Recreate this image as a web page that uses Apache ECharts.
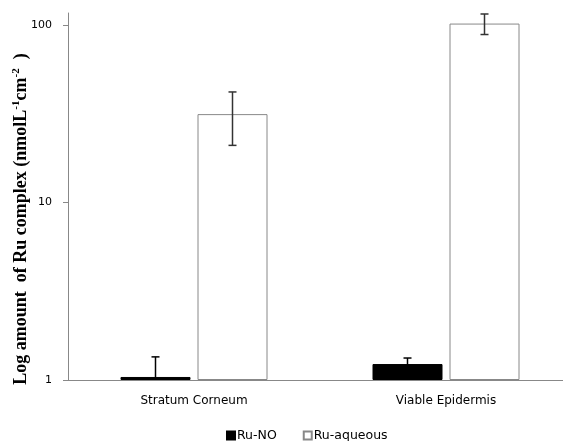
<!DOCTYPE html>
<html>
<head>
<meta charset="utf-8">
<script src="https://cdn.jsdelivr.net/npm/echarts@6/dist/echarts.min.js"></script>
<style>
  html, body { margin: 0; padding: 0; background: #fff; }
  #chart { width: 563px; height: 441px; }
</style>
</head>
<body>
<div id="chart"></div>
<script>
// values
const categories = ['Stratum Corneum', 'Viable Epidermis'];
const ruNO = [1.04, 1.23];
const ruNOErr = [0.31, 0.1];
const ruAq = [31.5, 102];
const ruAqErr = [10.5, 13.5];
const yTicks = [1, 10, 100];

const barW = 70;
const gapPx = 7;

function errorSeries(name, values, errs, side, color) {
  return {
    name: name + ' err',
    type: 'custom',
    silent: true,
    z: 10,
    data: values.map((v, i) => [i, v, errs[i]]),
    renderItem: function (params, api) {
      const i = api.value(0);
      const v = api.value(1);
      const e = api.value(2);
      const off = side * (barW + gapPx) / 2;
      const top = api.coord([i, v + e]);
      const bot = api.coord([i, Math.max(v - e, 1)]);
      const x = top[0] + off;
      const cap = 4;
      const style = { stroke: color, lineWidth: 1.5 };
      const children = [
        { type: 'line', shape: { x1: x, y1: top[1], x2: x, y2: bot[1] }, style: style },
        { type: 'line', shape: { x1: x - cap, y1: top[1], x2: x + cap, y2: top[1] }, style: style }
      ];
      if (v - e > 1) {
        children.push({ type: 'line', shape: { x1: x - cap, y1: bot[1], x2: x + cap, y2: bot[1] }, style: style });
      }
      return { type: 'group', children: children };
    }
  };
}

const chart = echarts.init(document.getElementById('chart'));
chart.setOption({
  animation: false,
  grid: { left: 68, top: 13, width: 504, bottom: 61, outerBoundsMode: 'none' },
  // y axis title, placed like the original (lower than the axis middle)
  graphic: [{
    type: 'text',
    x: 21,
    y: 219,
    rotation: Math.PI / 2,
    style: {
      text: '{b|Log amount  of Ru complex (nmolL}{s|-1}{b|cm}{s|-2}{b|  )}',
      align: 'center',
      verticalAlign: 'middle',
      rich: {
        b: { fontFamily: 'Liberation Serif', fontWeight: 'bold', fontSize: 18, fill: '#000', lineHeight: 20 },
        s: { fontFamily: 'Liberation Serif', fontWeight: 'bold', fontSize: 11, fill: '#000', verticalAlign: 'top', lineHeight: 20 }
      }
    }
  }],
  legend: {
    bottom: -6,
    left: 221,
    itemWidth: 8,
    itemHeight: 8,
    itemGap: 26,
    icon: 'rect',
    data: ['Ru-NO', 'Ru-aqueous'],
    textStyle: { fontFamily: 'DejaVu Sans', fontSize: 12.5, color: '#000', padding: [0, 0, 0, -3] }
  },
  xAxis: {
    type: 'category',
    data: categories,
    axisLine: { lineStyle: { color: '#888' } },
    axisTick: { length: 4, lineStyle: { color: '#888' } },
    axisLabel: { margin: 15, fontFamily: 'DejaVu Sans', fontSize: 12, color: '#000' }
  },
  yAxis: {
    type: 'log',
    logBase: 10,
    min: 1,
    max: 117,
    axisLine: { show: true, lineStyle: { color: '#888' } },
    axisTick: { show: true, length: 5, customValues: yTicks, lineStyle: { color: '#888' } },
    axisLabel: { margin: 16, customValues: yTicks, fontFamily: 'DejaVu Sans', fontSize: 11, color: '#000' },
    splitLine: { show: false }
  },
  series: [
    {
      name: 'Ru-NO',
      type: 'bar',
      data: ruNO,
      barWidth: barW,
      barGap: (gapPx / barW * 100) + '%',
      itemStyle: { color: '#000', borderColor: '#000', borderWidth: 1 }
    },
    {
      name: 'Ru-aqueous',
      type: 'bar',
      data: ruAq,
      barWidth: barW,
      barGap: (gapPx / barW * 100) + '%',
      itemStyle: { color: '#fff', borderColor: '#888', borderWidth: 1 }
    },
    errorSeries('Ru-NO', ruNO, ruNOErr, -1, '#000'),
    errorSeries('Ru-aqueous', ruAq, ruAqErr, 1, '#333')
  ]
});
</script>
</body>
</html>
